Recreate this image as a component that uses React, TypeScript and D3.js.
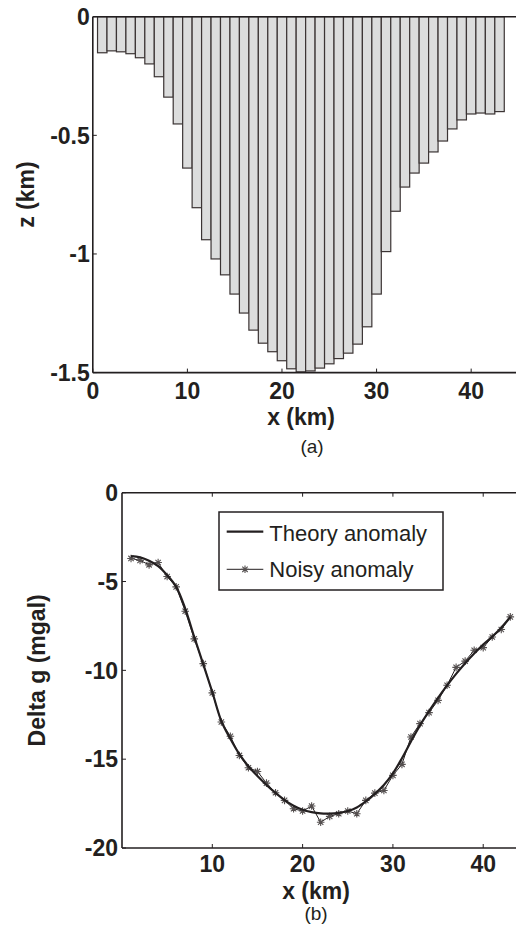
import React from "react";
import * as d3 from "d3";

// Basin model: prism centres (km) and depth of each prism base (km)
const prismX = [1, 2, 3, 4, 5, 6, 7, 8, 9, 10, 11, 12, 13, 14, 15, 16, 17, 18, 19, 20, 21, 22, 23, 24, 25, 26, 27, 28, 29, 30, 31, 32, 33, 34, 35, 36, 37, 38, 39, 40, 41, 42, 43];
const prismZ = [-0.152, -0.144, -0.148, -0.156, -0.173, -0.199, -0.253, -0.339, -0.452, -0.638, -0.805, -0.94, -1.021, -1.088, -1.169, -1.249, -1.321, -1.376, -1.412, -1.45, -1.484, -1.497, -1.493, -1.481, -1.463, -1.441, -1.418, -1.38, -1.307, -1.169, -0.99, -0.82, -0.718, -0.659, -0.617, -0.57, -0.524, -0.473, -0.435, -0.41, -0.406, -0.41, -0.4];

// Gravity profile (mgal) at the station positions
const stationX = prismX;
const theoryG = [-3.57, -3.64, -3.83, -4.13, -4.64, -5.3, -6.52, -8.12, -9.66, -11.22, -12.85, -13.85, -14.72, -15.4, -15.95, -16.45, -16.9, -17.3, -17.62, -17.85, -17.98, -18.05, -18.06, -18.02, -17.92, -17.72, -17.38, -16.95, -16.45, -15.8, -14.95, -14.0, -13.1, -12.3, -11.55, -10.85, -10.2, -9.6, -9.05, -8.55, -8.1, -7.6, -7.0];
const noisyG = [-3.7, -3.81, -4.06, -3.93, -4.72, -5.3, -6.67, -8.23, -9.62, -11.27, -12.91, -13.71, -14.79, -15.48, -15.69, -16.35, -16.89, -17.32, -17.79, -17.92, -17.64, -18.55, -18.22, -18.07, -17.92, -18.07, -17.32, -16.91, -16.76, -15.91, -15.29, -13.75, -13.0, -12.38, -11.69, -10.84, -9.83, -9.48, -8.87, -8.72, -8.12, -7.7, -6.99];

const xTicksKm = [0, 10, 20, 30, 40];
const zTicks = [0, -0.5, -1, -1.5];
const gTicks = [0, -5, -10, -15, -20];
const legendLabels = ["Theory anomaly", "Noisy anomaly"];

const INK = "#231f20";
const FONT = "'Liberation Sans', Arial, Helvetica, sans-serif";
const FRAME_RIGHT = 516;

function Star({ x, y, r = 3.8, color = "#555050" }: { x: number; y: number; r?: number; color?: string }) {
  const d = [0, 45, 90, 135]
    .map((a) => {
      const t = (a * Math.PI) / 180;
      const dx = r * Math.cos(t);
      const dy = r * Math.sin(t);
      return `M${x - dx},${y - dy}L${x + dx},${y + dy}`;
    })
    .join("");
  return <path d={d} stroke={color} strokeWidth={1.1} fill="none" />;
}

export default function App() {
  // ---- panel (a): prism model ----
  const xa = d3.scaleLinear().domain([0, 44]).range([92.8, 509]);
  const ya = d3.scaleLinear().domain([-1.5, 0]).range([372.6, 16.7]);

  // ---- panel (b): gravity anomaly ----
  const xb = d3.scaleLinear().domain([0, 43]).range([122, 510.3]);
  const yb = d3.scaleLinear().domain([-20, 0]).range([848, 492.7]);

  const theoryLine = d3
    .line<number>()
    .x((_, i) => xb(stationX[i]))
    .y((v) => yb(v))
    .curve(d3.curveCatmullRom.alpha(0.5));
  const noisyLine = d3
    .line<number>()
    .x((_, i) => xb(stationX[i]))
    .y((v) => yb(v));

  const tickLen = 4;
  const tickFont = { fontFamily: FONT, fontWeight: 700, fontSize: 23, fill: INK } as const;
  const labelFont = { fontFamily: FONT, fontWeight: 700, fontSize: 23, fill: INK } as const;

  const [a0] = xa.range();
  const [aBot, aTop] = ya.range();
  const [b0] = xb.range();
  const [bBot, bTop] = yb.range();

  return (
    <svg
      width={516}
      height={931}
      viewBox="0 0 516 931"
      style={{ position: "absolute", left: 0, top: 0, background: "#fff" }}
    >
      <rect x={0} y={0} width={516} height={931} fill="#fff" />

      {/* ===== (a) prisms ===== */}
      <g>
        {prismX.map((c, i) => (
          <rect
            key={i}
            x={xa(c - 0.5)}
            y={ya(0)}
            width={xa(c + 0.5) - xa(c - 0.5)}
            height={ya(prismZ[i]) - ya(0)}
            fill="#dcdddd"
            stroke="#3b3434"
            strokeWidth={1.2}
          />
        ))}
        {/* axes frame */}
        <line x1={a0} x2={FRAME_RIGHT} y1={aTop} y2={aTop} stroke={INK} strokeWidth={1.6} />
        <line x1={a0} x2={FRAME_RIGHT} y1={aBot} y2={aBot} stroke={INK} strokeWidth={1.6} />
        <line x1={a0} x2={a0} y1={aTop} y2={aBot} stroke={INK} strokeWidth={1.6} />
        {zTicks.map((t) => (
          <g key={t}>
            <line x1={a0} x2={a0 + tickLen} y1={ya(t)} y2={ya(t)} stroke={INK} strokeWidth={1} />
            <text x={a0 - 3} y={ya(t)} dy="0.36em" textAnchor="end" {...tickFont}>
              {t === 0 ? "0" : String(t)}
            </text>
          </g>
        ))}
        {xTicksKm.map((t) => (
          <g key={t}>
            <line x1={xa(t)} x2={xa(t)} y1={aBot} y2={aBot - tickLen} stroke={INK} strokeWidth={1} />
            <text x={xa(t)} y={399} textAnchor="middle" {...tickFont}>
              {t}
            </text>
          </g>
        ))}
        <text x={301} y={425} textAnchor="middle" {...labelFont}>
          x (km)
        </text>
        <text
          transform={`translate(34,${(aTop + aBot) / 2}) rotate(-90)`}
          textAnchor="middle"
          {...labelFont}
        >
          z (km)
        </text>
        <text x={312} y={453} textAnchor="middle" fontFamily={FONT} fontSize={19} fill={INK}>
          (a)
        </text>
      </g>

      {/* ===== (b) gravity ===== */}
      <g>
        <path d={noisyLine(noisyG) || ""} fill="none" stroke={INK} strokeWidth={1} />
        {noisyG.map((v, i) => (
          <Star key={i} x={xb(stationX[i])} y={yb(v)} />
        ))}
        <path d={theoryLine(theoryG) || ""} fill="none" stroke={INK} strokeWidth={2.2} />

        {/* axes frame */}
        <line x1={b0} x2={FRAME_RIGHT} y1={bTop} y2={bTop} stroke={INK} strokeWidth={1.6} />
        <line x1={b0} x2={FRAME_RIGHT} y1={bBot} y2={bBot} stroke={INK} strokeWidth={1.6} />
        <line x1={b0} x2={b0} y1={bTop} y2={bBot} stroke={INK} strokeWidth={1.6} />
        {gTicks.map((t) => (
          <g key={t}>
            <line x1={b0} x2={b0 + tickLen} y1={yb(t)} y2={yb(t)} stroke={INK} strokeWidth={1} />
            <text x={b0 - 4} y={yb(t)} dy="0.36em" textAnchor="end" {...tickFont}>
              {String(t)}
            </text>
          </g>
        ))}
        {xTicksKm
          .filter((t) => t > 0)
          .map((t) => (
            <g key={t}>
              <line x1={xb(t)} x2={xb(t)} y1={bBot} y2={bBot - tickLen} stroke={INK} strokeWidth={1} />
              <line x1={xb(t)} x2={xb(t)} y1={bTop} y2={bTop + tickLen} stroke={INK} strokeWidth={1} />
              <text x={xb(t)} y={872} textAnchor="middle" {...tickFont}>
                {t}
              </text>
            </g>
          ))}
        <text x={316} y={899} textAnchor="middle" {...labelFont}>
          x (km)
        </text>
        <text
          transform={`translate(45,${(bTop + bBot) / 2}) rotate(-90)`}
          textAnchor="middle"
          {...labelFont}
        >
          Delta g (mgal)
        </text>
        <text x={316} y={920} textAnchor="middle" fontFamily={FONT} fontSize={19} fill={INK}>
          (b)
        </text>

        {/* legend */}
        <rect x={219} y={512} width={224} height={78} fill="#fff" stroke={INK} strokeWidth={1.5} />
        <line x1={226.7} x2={263.3} y1={531.7} y2={531.7} stroke={INK} strokeWidth={2.2} />
        <text x={269.3} y={540.7} fontFamily={FONT} fontSize={22} fill={INK}>
          {legendLabels[0]}
        </text>
        <line x1={226.7} x2={263.3} y1={569.3} y2={569.3} stroke={INK} strokeWidth={1} />
        <Star x={245} y={569.3} />
        <text x={269.3} y={577.3} fontFamily={FONT} fontSize={22} fill={INK}>
          {legendLabels[1]}
        </text>
      </g>
    </svg>
  );
}
